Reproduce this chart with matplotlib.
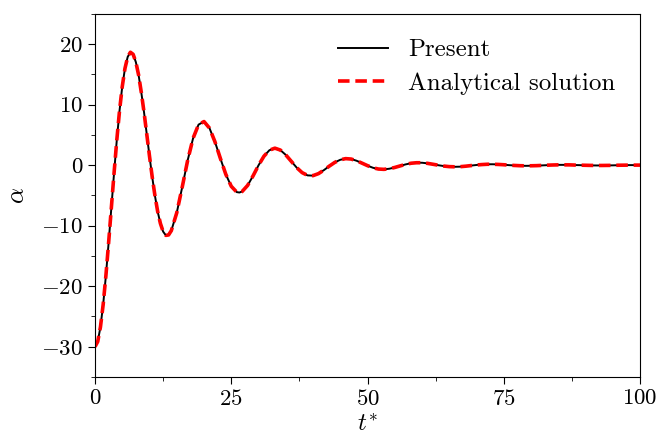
import numpy as np
import matplotlib
matplotlib.use("Agg")
import matplotlib.pyplot as plt
from matplotlib.ticker import MultipleLocator

plt.rcParams["font.family"] = "serif"
plt.rcParams["font.serif"] = ["cmr10"]
plt.rcParams["mathtext.fontset"] = "cm"
plt.rcParams["axes.formatter.use_mathtext"] = True
plt.rcParams["axes.unicode_minus"] = True

# values
t = [0, 0.5, 1, 1.5, 2, 2.5, 3, 3.5, 4, 4.5, 5, 5.5, 6, 6.5, 7, 7.5, 8, 8.5, 9, 9.5,
     10, 10.5, 11, 11.5, 12, 12.5, 13, 13.5, 14, 15, 16, 17, 18, 19, 20, 21, 22, 23, 24, 25,
     26, 26.5, 27, 28, 29, 30, 31, 32, 33, 34, 35, 36, 37, 38, 39, 40, 41, 42, 43, 44,
     45, 46, 47, 48, 49, 50, 51, 52, 53, 54, 55, 56, 57, 58, 59, 60, 61, 62, 63, 64,
     65, 66, 67, 68, 69, 70, 71, 72, 73, 74, 75, 76, 77, 78, 79, 80, 81, 82, 83, 84,
     85, 86, 87, 88, 89, 90, 91, 92, 93, 94, 95, 96, 97, 98, 99, 100]
alpha = [-30.0, -29.15, -26.74, -23.01, -18.25, -12.81, -7.04, -1.27, 4.16, 9.00,
         12.99, 16.00, 17.91, 18.67, 18.33, 17.03, 14.91, 12.01, 8.73, 5.11,
         1.50, -1.95, -5.05, -7.65, -9.62, -10.97, -11.59, -11.52, -10.82, -7.86, -3.63,
         0.80, 4.47, 6.71, 7.22, 6.14, 3.90, 1.14, -1.50, -3.48,
         -4.44, -4.51, -4.34, -3.34, -1.76, -0.02, 1.49, 2.48, 2.82, 2.51, 1.71,
         0.66, -0.39, -1.22, -1.68, -1.72, -1.39, -0.81, -0.14, 0.47,
         0.90, 1.09, 1.02, 0.74, 0.34, -0.07, -0.42, -0.63, -0.68, -0.58, -0.37,
         -0.11, 0.14, 0.33, 0.41, 0.41, 0.31, 0.16, 0.00, -0.14,
         -0.23, -0.26, -0.24, -0.16, -0.06, 0.04, 0.11, 0.16, 0.16, 0.13, 0.08,
         0.01, -0.04, -0.08, -0.10, -0.09, -0.07, -0.03, 0.01, 0.04,
         0.06, 0.06, 0.06, 0.03, 0.01, -0.01, -0.03, -0.04, -0.04, -0.03, -0.02,
         0.00, 0.01, 0.02, 0.02, 0.02]
alpha_exact = alpha

fig = plt.figure(figsize=(6.62, 4.36), dpi=100)
ax = fig.add_axes([0.1435, 0.1353, 0.8233, 0.8327])

ax.plot(t, alpha, color="black", lw=1.4, label="Present")
ax.plot(t, alpha_exact, color="red", lw=2.6, ls=(0, (3.2, 1.6)), label="Analytical solution")

ax.set_xlim(0, 100)
ax.set_ylim(-35, 25)
ax.xaxis.set_major_locator(MultipleLocator(25))
ax.xaxis.set_minor_locator(MultipleLocator(12.5))
ax.yaxis.set_major_locator(MultipleLocator(10))
ax.yaxis.set_minor_locator(MultipleLocator(5))
ax.tick_params(which="both", direction="out", labelsize=16.5)
ax.tick_params(which="major", length=5)
ax.tick_params(which="minor", length=3)

ax.set_xlabel(r"$t^{*}$", fontsize=18, labelpad=4)
ax.set_ylabel(r"$\alpha$", fontsize=18, labelpad=9)

ax.legend(loc="upper right", frameon=False, fontsize=18, handlelength=2.0,
          labelspacing=0.45, borderaxespad=0.6)

fig.savefig("out.png", dpi=100)
